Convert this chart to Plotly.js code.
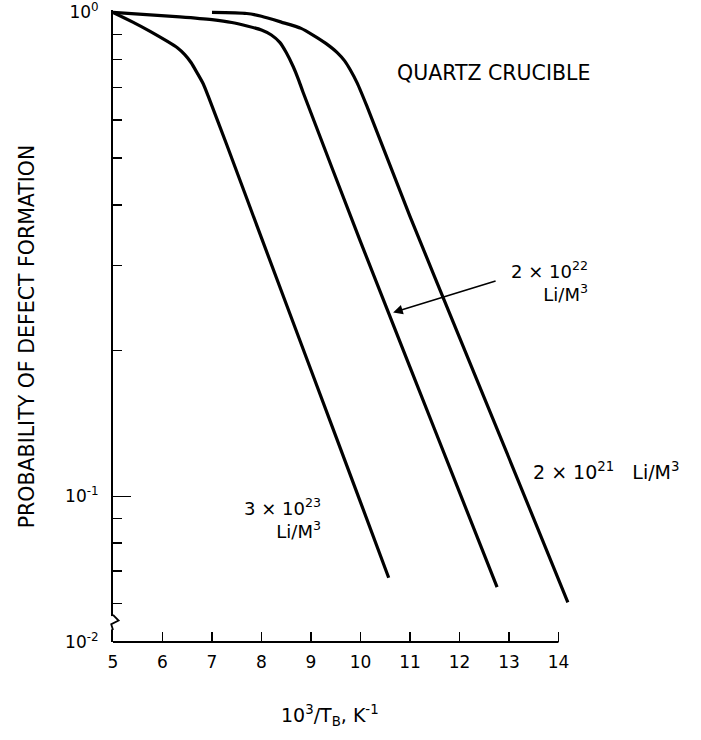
<!DOCTYPE html>
<html><head><meta charset="utf-8">
<script src="https://cdn.plot.ly/plotly-3.0.1.min.js"></script>
<style>html,body{margin:0;padding:0;background:#fff}</style>
</head><body>
<div id="chart" style="width:701px;height:740px"></div>
<script>
// ---- data ----
const xTickVals = [5, 6, 7, 8, 9, 10, 11, 12, 13, 14];
const xTickText = ['5', '6', '7', '8', '9', '10', '11', '12', '13', '14'];
const yMajorVals = [1, 0.1, 0.05];
const yMajorText = ['10<sup>0</sup>', '10<sup>-1</sup>', '10<sup>-2</sup>'];
const yMinorVals = [0.9, 0.8, 0.7, 0.6, 0.5, 0.4, 0.3, 0.2, 0.09, 0.08, 0.07, 0.06];

// 3 x 10^23 Li/M^3
const xLi23 = [5.0, 5.4, 5.75, 6.1, 6.3, 6.45, 6.58, 6.7, 6.82, 6.92, 7.3, 8.0, 9.0, 10.0, 10.57];
const yLi23 = [1.0, 0.955, 0.914, 0.871, 0.845, 0.818, 0.787, 0.750, 0.713, 0.673, 0.532, 0.342, 0.1824, 0.0973, 0.0679];
// 2 x 10^22 Li/M^3
const xLi22 = [5.0, 6.35, 7.0, 7.4, 8.0, 8.2, 8.37, 8.5, 8.64, 8.74, 8.84, 10.0, 11.0, 12.0, 12.76];
const yLi22 = [1.0, 0.979, 0.966, 0.953, 0.920, 0.898, 0.867, 0.826, 0.773, 0.730, 0.684, 0.336, 0.185, 0.102, 0.0649];
// 2 x 10^21 Li/M^3
const xLi21 = [7.0, 7.7, 8.0, 8.4, 8.8, 9.04, 9.3, 9.53, 9.68, 9.79, 9.93, 10.13, 11.0, 12.0, 13.0, 14.19];
const yLi21 = [1.0, 0.995, 0.982, 0.955, 0.927, 0.898, 0.863, 0.826, 0.794, 0.762, 0.716, 0.640, 0.379, 0.213, 0.120, 0.0604];

const seriesNames = ['3 × 10<sup>23</sup><br>Li/M<sup>3</sup>',
                     '2 × 10<sup>22</sup><br>Li/M<sup>3</sup>',
                     '2 × 10<sup>21</sup>   Li/M<sup>3</sup>'];
const panelLabel = 'QUARTZ CRUCIBLE';
const xTitle = '10<sup>3</sup>/T<sub>B</sub>, K<sup>-1</sup>';
const yTitle = 'PROBABILITY OF DEFECT FORMATION';

// ---- drawing ----
const FONT = 'DejaVu Sans';
const lineStyle = {color: '#000', width: 3.2, shape: 'spline', smoothing: 0.6};
const traces = [
  {x: xLi23, y: yLi23, mode: 'lines', line: lineStyle, name: seriesNames[0], hoverinfo: 'skip'},
  {x: xLi22, y: yLi22, mode: 'lines', line: lineStyle, name: seriesNames[1], hoverinfo: 'skip'},
  {x: xLi21, y: yLi21, mode: 'lines', line: lineStyle, name: seriesNames[2], hoverinfo: 'skip'}
];

const L = Math.log10;
const layout = {
  width: 701, height: 740,
  margin: {l: 113, r: 0, t: 10, b: 98},
  paper_bgcolor: '#fff', plot_bgcolor: '#fff',
  showlegend: false,
  font: {family: FONT, color: '#000', size: 17},
  xaxis: {
    type: 'linear', range: [5, 16.88], showgrid: false, zeroline: false, showline: false,
    tickmode: 'array', tickvals: xTickVals, ticktext: xTickText,
    ticks: 'inside', ticklen: 10, tickwidth: 1.6, tickcolor: '#000',
    tickfont: {family: FONT, size: 17}, ticklabelstandoff: 8
  },
  yaxis: {
    type: 'log', range: [L(0.05), 0.005], showgrid: false, zeroline: false,
    showline: true, linewidth: 2, linecolor: '#000',
    tickmode: 'array', tickvals: yMajorVals, ticktext: yMajorText,
    ticks: 'inside', ticklen: 18, tickwidth: 1.6, tickcolor: '#000',
    tickfont: {family: FONT, size: 17}, ticklabelstandoff: 9,
    minor: {tickmode: 'array', tickvals: yMinorVals, ticks: 'inside', ticklen: 9,
            tickwidth: 1.6, tickcolor: '#000', showgrid: false}
  },
  shapes: [
    // x axis line, spanning the labelled 5..14 only
    {type: 'line', xref: 'x', yref: 'paper', x0: xTickVals[0], x1: xTickVals[xTickVals.length - 1],
     y0: 0, y1: 0, line: {color: '#000', width: 2}},
    // white gap + squiggle marking the axis break
    {type: 'rect', xref: 'paper', yref: 'paper', x0: -0.004, x1: 0.004, y0: 0.020, y1: 0.041,
     fillcolor: '#fff', line: {width: 0}},
    {type: 'path', xref: 'paper', yref: 'paper',
     path: 'M 0,0.043 L 0.0095,0.034 L -0.003,0.028 L 0,0.019',
     line: {color: '#000', width: 1.8}}
  ],
  annotations: [
    {xref: 'x', yref: 'y', x: 12.68, y: -0.126, text: panelLabel, showarrow: false,
     font: {family: FONT, size: 20.5}},
    {xref: 'x', yref: 'y', x: 13.81, y: -0.556, text: seriesNames[1], showarrow: false, align: 'right',
     font: {family: FONT, size: 18}},
    {xref: 'x', yref: 'y', x: 10.66, y: -0.620, axref: 'x', ayref: 'y', ax: 12.76, ay: -0.554,
     text: '', showarrow: true, arrowhead: 2, arrowsize: 1.2, arrowwidth: 1.6, arrowcolor: '#000'},
    {xref: 'x', yref: 'y', x: 14.96, y: -0.948, text: seriesNames[2], showarrow: false,
     font: {family: FONT, size: 19}},
    {xref: 'x', yref: 'y', x: 8.43, y: -1.045, text: seriesNames[0], showarrow: false, align: 'right',
     font: {family: FONT, size: 18}},
    {xref: 'x', yref: 'paper', x: 9.38, y: -0.117, xanchor: 'center', yanchor: 'middle', text: xTitle,
     showarrow: false, font: {family: FONT, size: 19}},
    {xref: 'paper', yref: 'paper', x: -0.146, y: 0.484, xanchor: 'center', yanchor: 'middle',
     text: yTitle, textangle: -90, showarrow: false, font: {family: FONT, size: 20.5}}
  ]
};

Plotly.newPlot('chart', traces, layout, {staticPlot: true, displayModeBar: false});
</script>
</body></html>
